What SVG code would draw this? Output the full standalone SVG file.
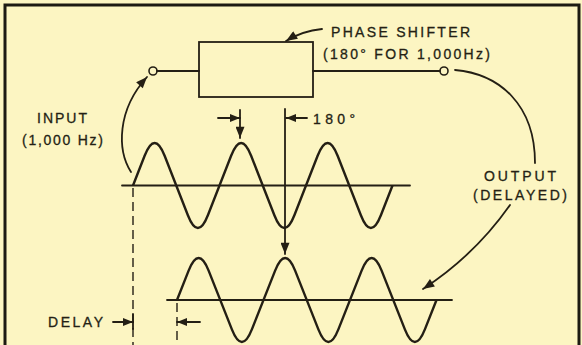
<svg xmlns="http://www.w3.org/2000/svg" width="582" height="345" viewBox="0 0 582 345">
<defs>
<style>
.ln{fill:none;stroke:#241f14;stroke-width:1.8;stroke-linecap:round;stroke-linejoin:round}
.wave{fill:none;stroke:#241f14;stroke-width:2.4;stroke-linejoin:round}
.dash{fill:none;stroke:#241f14;stroke-width:1.4;stroke-dasharray:9 5}
.t{font-family:"Liberation Sans","DejaVu Sans",Arial,sans-serif;font-size:14px;fill:#241f14;stroke:#241f14;stroke-width:0.3}
</style>
<marker id="ah" viewBox="0 0 10 8" refX="10" refY="4" markerWidth="13" markerHeight="9" markerUnits="userSpaceOnUse" orient="auto">
<path d="M0,0 L10,4 L0,8 Z" fill="#241f14"/>
</marker>
<marker id="ahs" viewBox="0 0 10 8" refX="10" refY="4" markerWidth="11" markerHeight="8" markerUnits="userSpaceOnUse" orient="auto">
<path d="M0,0 L10,4 L0,8 Z" fill="#241f14"/>
</marker>
</defs>
<rect x="0" y="0" width="582" height="345" fill="#fcf5c2"/>
<path d="M5,345 V5 H579 V345" fill="none" stroke="#1c1a12" stroke-width="3"/>

<g id="phase-shifter">
<rect x="199" y="42" width="114" height="55" fill="none" stroke="#241f14" stroke-width="1.8"/>
<text class="t" x="331" y="37" textLength="139" lengthAdjust="spacing">PHASE SHIFTER</text>
<text class="t" x="323" y="59" textLength="167" lengthAdjust="spacing">(180° FOR 1,000Hz)</text>
</g>
<g id="input-terminal">
<circle cx="153" cy="71" r="4" fill="#fcf5c2" stroke="#241f14" stroke-width="1.6"/>
</g>
<g id="output-terminal">
<circle cx="444" cy="71" r="4" fill="#fcf5c2" stroke="#241f14" stroke-width="1.6"/>
</g>
<g id="input-label">
<text class="t" x="37" y="123" textLength="50" lengthAdjust="spacing">INPUT</text>
<text class="t" x="22" y="145" textLength="81" lengthAdjust="spacing">(1,000 Hz)</text>
</g>
<g id="output-label">
<text class="t" x="484" y="181" textLength="72" lengthAdjust="spacing">OUTPUT</text>
<text class="t" x="473" y="200" textLength="94" lengthAdjust="spacing">(DELAYED)</text>
</g>
<g id="delay-label">
<text class="t" x="48" y="327" textLength="55" lengthAdjust="spacing">DELAY</text>
</g>
<g id="angle-label">
<text class="t" x="313" y="124" textLength="42" lengthAdjust="spacing">180°</text>
</g>
<g id="input-wave">
<line class="ln" x1="122" y1="185.5" x2="410" y2="185.5"/>
<path class="wave" d="M133,185.5 l11.625,-29.72 q10,-25.56 20,0 l23.25,59.44 q10,25.56 20,0 l23.25,-59.44 q10,-25.56 20,0 l23.25,59.44 q10,25.56 20,0 l23.25,-59.44 q10,-25.56 20,0 l23.25,59.44 q10,25.56 20,0 l11.625,-29.72"/>
</g>
<g id="output-wave">
<line class="ln" x1="167" y1="300" x2="452" y2="300"/>
<path class="wave" d="M177,300 l11.625,-29.4 q10,-25.2 20,0 l23.25,58.8 q10,25.2 20,0 l23.25,-58.8 q10,-25.2 20,0 l23.25,58.8 q10,25.2 20,0 l23.25,-58.8 q10,-25.2 20,0 l23.25,58.8 q10,25.2 20,0 l11.625,-29.4"/>
</g>

<g id="connectors">
<line class="ln" x1="157" y1="71" x2="199" y2="71"/>
<line class="ln" x1="313" y1="71" x2="440" y2="71"/>
<path class="ln" d="M322,29 Q302,31 286,41" marker-end="url(#ah)"/>
<path class="ln" d="M131,172 C117,150 117,110 147,77" marker-end="url(#ah)"/>
<path class="ln" d="M455,70 C500,74 535,105 535,163"/>
<path class="ln" d="M510,205 Q475,255 423,289" marker-end="url(#ah)"/>
<line class="ln" x1="218" y1="118" x2="240" y2="118" marker-end="url(#ahs)"/>
<line class="ln" x1="240" y1="110" x2="240" y2="138" marker-end="url(#ah)"/>
<line class="ln" x1="307" y1="118" x2="286" y2="118" marker-end="url(#ahs)"/>
<line class="ln" x1="285" y1="109" x2="285" y2="254" marker-end="url(#ah)"/>
<line class="dash" x1="133" y1="188" x2="133" y2="345"/>
<line class="dash" x1="177" y1="303" x2="177" y2="345"/>
<line class="ln" x1="133" y1="314" x2="133" y2="329"/>
<line class="ln" x1="113" y1="322" x2="133" y2="322" marker-end="url(#ahs)"/>
<line class="ln" x1="200" y1="322" x2="177" y2="322" marker-end="url(#ahs)"/>
</g>
</svg>
